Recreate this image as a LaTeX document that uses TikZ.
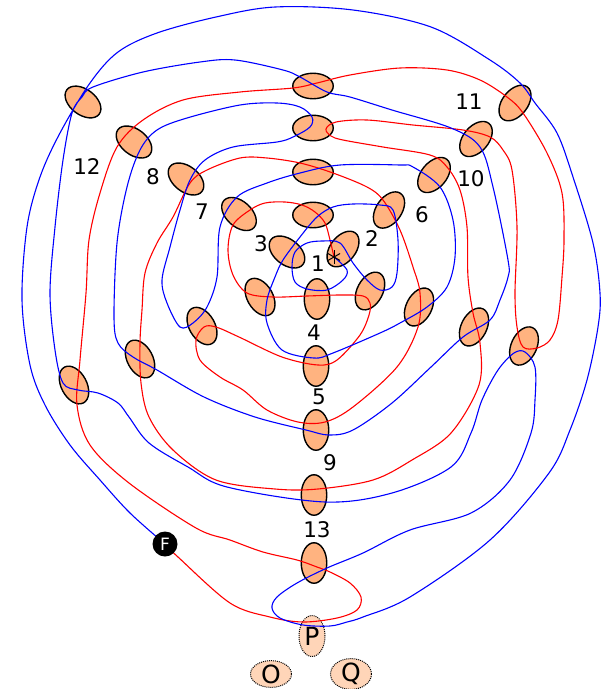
\documentclass[tikz,border=0pt]{standalone}
\usepackage{fontspec}
\setmainfont{DejaVu Sans}
\usetikzlibrary{shapes.geometric}
\definecolor{ell}{HTML}{FFB380}
\definecolor{ellp}{HTML}{FFD5B8}
\pgfdeclarelayer{back}
\pgfdeclarelayer{front}
\pgfsetlayers{back,main,front}
\tikzset{
 knot/.style={ellipse, draw=black, line width=1.4pt, fill=ell, minimum width=40.5pt, minimum height=25.5pt, inner sep=0pt},
 ghost/.style={ellipse, draw=black, densely dotted, line width=1pt, fill=ellp, inner sep=0pt, font=\fontsize{25}{25}\selectfont},
 lab/.style={font=\fontsize{21.5}{21.5}\selectfont, inner sep=0pt},
 bl/.style={draw=blue, line width=1.1pt},
 rd/.style={draw=red, line width=1.1pt},
}
\begin{document}
\begin{tikzpicture}[x=1pt,y=-1pt]
\useasboundingbox (0,0) rectangle (613,689);
\begin{pgfonlayer}{back}
% column
\node[knot] (kA) at (313,86) {};
\node[knot] (kB) at (313,128) {};
\node[knot] (kC) at (313,172) {};
\node[knot] (kD) at (313,215) {};
\node[knot,rotate=90] (k4) at (317,299) {};
\node[knot,rotate=90] (k5) at (316,366) {};
\node[knot,rotate=90] (k9) at (316,430) {};
\node[knot,rotate=90] (k13a) at (314,495) {};
\node[knot,rotate=90] (k13b) at (314,563) {};
% upper left
\node[knot,rotate=-37] (k12) at (83,102) {};
\node[knot,rotate=-38] (kL2) at (134,142) {};
\node[knot,rotate=-38] (k8) at (186,179) {};
\node[knot,rotate=-42] (k7) at (239,214) {};
\node[knot,rotate=-38] (k3) at (287,252) {};
% upper right
\node[knot,rotate=52] (k2) at (343,249) {};
\node[knot,rotate=55] (k6) at (389,210) {};
\node[knot,rotate=50] (k10) at (434,175) {};
\node[knot,rotate=50] (k11a) at (476,139) {};
\node[knot,rotate=52] (k11b) at (515,103) {};
% lower left
\node[knot,rotate=-60] (kl1) at (260,297) {};
\node[knot,rotate=-60] (kl2) at (202,326) {};
\node[knot,rotate=-62] (kl3) at (140,359) {};
\node[knot,rotate=-62] (kl4) at (74,385) {};
% lower right
\node[knot,rotate=62] (kr1) at (370,291) {};
\node[knot,rotate=63] (kr2) at (419,307) {};
\node[knot,rotate=63] (kr3) at (474,327) {};
\node[knot,rotate=65] (kr4) at (524,346) {};
% ghosts
\node[ghost, minimum width=26pt, minimum height=41pt] (P) at (312,636) {P};
\node[ghost, minimum width=41pt, minimum height=26pt] (O) at (271,674) {O};
\node[ghost, minimum width=41pt, minimum height=26pt] (Q) at (351,674) {Q};
\end{pgfonlayer}

\begin{pgfonlayer}{front}
\node[circle, fill=black, minimum size=25pt, inner sep=0pt, text=white, font=\fontsize{17}{17}\selectfont] (F) at (165,544) {F};
\coordinate (S) at (334,257);
\draw[line width=1pt] (S) ++(0,-7) -- ++(0,14);
\draw[line width=1pt] (S) ++(-6.1,-3.5) -- ++(12.2,7);
\draw[line width=1pt] (S) ++(-6.1,3.5) -- ++(12.2,-7);
\end{pgfonlayer}

% labels
\node[lab] (t1) at (318,264) {1};
\node[lab] (t2) at (372,239) {2};
\node[lab] (t3) at (261,244) {3};
\node[lab] (t4) at (314,333) {4};
\node[lab] (t5) at (319,397) {5};
\node[lab] (t6) at (422,215) {6};
\node[lab] (t7) at (202,212) {7};
\node[lab] (t8) at (153,177) {8};
\node[lab] (t9) at (330,463) {9};
\node[lab] (t10) at (471,179) {10};
\node[lab] (t11) at (469,102) {11};
\node[lab] (t12) at (87,167) {12};
\node[lab] (t13) at (317,530) {13};

% red curve
\draw[rd] plot[smooth, tension=0.55] coordinates {(F.center) (178,557) (230,603) (270,617) (303,622) (337,618) (357,610) (361,597) (350,583) (330,572) (317,567) (297,560) (263,552) (230,540) (196,528) (129,483) (90,445) (77,405) (80,360) (86,293) (89,240) (100,193) (117,147) (143,120) (183,100) (240,92) (293,88) (317,83) (350,75) (400,68) (447,70) (480,80) (507,97) (523,113) (547,153) (562,193) (564,240) (562,277) (558,320) (550,340) (537,348) (523,347) (517,327) (515,293) (517,227) (512,170) (503,150) (490,137) (463,130) (413,125) (367,120) (336,122) (326,129) (331,136) (343,140) (383,147) (430,155) (447,167) (460,190) (467,227) (468,277) (473,313) (480,343) (479,385) (451,433) (412,460) (373,480) (318,489) (275,489) (216,480) (173,450) (149,417) (141,383) (140,343) (142,310) (145,273) (157,243) (173,217) (190,183) (207,170) (240,158) (267,158) (300,163) (333,173) (367,187) (383,200) (400,230) (413,267) (420,293) (418,327) (397,367) (353,407) (325,422) (298,422) (267,410) (243,390) (220,377) (200,360) (196,340) (204,327) (216,327) (239,337) (282,357) (318,365) (337,360) (360,335) (369,315) (370,303) (363,296) (340,295) (307,296) (273,297) (247,293) (233,275) (228,250) (233,225) (250,210) (265,203) (285,202) (302,205) (315,212) (325,223) (330,240) (S)};

% blue curve
\draw[bl] plot[smooth, tension=0.55] coordinates {(F.center) (130,513) (100,480) (70,445) (45,405) (30,365) (22,300) (27,227) (40,177) (60,133) (90,83) (118,52) (157,33) (216,17) (275,7) (353,10) (431,27) (490,60) (520,83) (535,103) (557,133) (573,177) (593,243) (600,293) (598,327) (587,380) (570,430) (549,473) (490,540) (410,597) (363,617) (347,622) (330,626) (303,625) (280,618) (272,608) (277,597) (297,583) (327,568) (363,553) (410,530) (471,513) (510,480) (531,433) (535,400) (535,367) (525,352) (514,353) (498,370) (482,400) (471,433) (451,467) (392,493) (325,502) (227,487) (188,467) (149,443) (129,417) (118,403) (98,393) (78,390) (63,383) (55,350) (50,293) (55,227) (63,160) (72,113) (82,97) (93,87) (143,72) (200,62) (235,60) (283,70) (300,77) (327,92) (350,97) (392,110) (451,128) (480,147) (493,187) (508,260) (508,277) (500,300) (490,320) (463,337) (431,367) (392,403) (353,430) (329,435) (306,430) (255,417) (204,397) (157,370) (133,357) (118,343) (114,317) (117,243) (127,187) (140,150) (157,130) (187,118) (240,105) (277,103) (300,107) (312,117) (310,127) (293,137) (277,142) (233,147) (205,160) (190,180) (180,210) (170,247) (162,280) (167,303) (180,327) (193,323) (207,307) (217,277) (220,227) (237,197) (267,183) (300,173) (340,165) (400,165) (413,167) (440,187) (453,220) (455,257) (447,287) (427,307) (400,323) (380,333) (333,353) (314,358) (282,350) (267,323) (267,300) (275,277) (283,260) (300,237) (317,217) (333,207) (353,204) (380,205) (393,210) (398,240) (397,273) (392,287) (380,290) (367,280) (353,263) (340,243) (323,241) (307,243) (295,252) (292,267) (295,282) (307,289) (327,290) (343,280) (347,270) (S)};
\end{tikzpicture}
\end{document}
